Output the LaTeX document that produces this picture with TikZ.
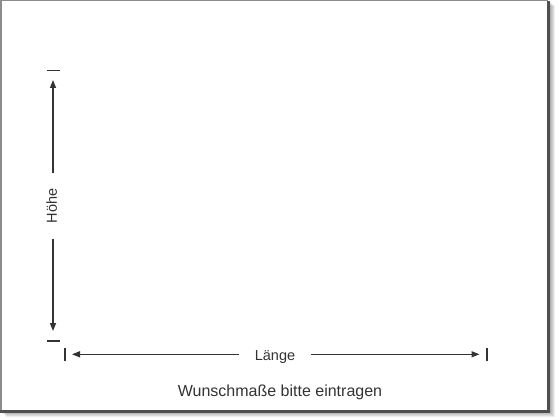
\documentclass[tikz,border=0pt]{standalone}
\usepackage{fontspec}
\setmainfont{Liberation Sans}
\usetikzlibrary{arrows.meta}
\definecolor{ink}{HTML}{333333}
\definecolor{frameline}{HTML}{8C8C8C}
\definecolor{frameedge}{HTML}{4F4F4F}

\begin{document}
\begin{tikzpicture}[x=1pt, y=-1pt, every node/.style={text=ink, font=\fontsize{14.5}{17}\selectfont}, every path/.style={line width=1.4pt}, dimline/.style={draw=ink, -{Triangle[length=8pt, width=6pt]}}, tick/.style={draw=ink}, dimlabel/.style={fill=white, inner xsep=15pt, inner ysep=2pt}]

        \useasboundingbox (0,0) rectangle (560,420);

        % shadow and panel
        \foreach \s in {1,...,6}
                \fill[black, opacity=0.07] (\s,\s) rectangle (549+\s,411+\s);
        \fill[white] (0,0) rectangle (548,410);
        \draw[frameline, line width=1.5pt] (0.75,410) -- (0.75,0.75) -- (548,0.75);
        \draw[frameedge, line width=3pt] (548.5,1) -- (548.5,411.5) -- (0,411.5);

        % end marks
        \coordinate (ttop) at (53.5,70.7);
        \coordinate (tbot) at (53.5,341);
        \coordinate (tleft) at (65,354.3);
        \coordinate (tright) at (487,354.3);
        \draw[tick] ([xshift=-6.5pt]ttop) -- ([xshift=6.5pt]ttop);
        \draw[tick] ([xshift=-6.5pt]tbot) -- ([xshift=6.5pt]tbot);
        \draw[tick] ([yshift=-6.5pt]tleft) -- ([yshift=6.5pt]tleft);
        \draw[tick] ([yshift=-6.5pt]tright) -- ([yshift=6.5pt]tright);

        % arrow ends
        \coordinate (up) at (53,80);
        \coordinate (down) at (53,331);
        \coordinate (left) at (72,354.3);
        \coordinate (right) at (479.5,354.3);

        \node[dimlabel, rotate=90, text depth=3pt] (hoehe) at (53,206) {Höhe};
        \node[dimlabel, text height=12.5pt, text depth=0pt] (laenge) at (275,354.3) {Länge};
        \node[anchor=base, font=\fontsize{16}{19}\selectfont] (hint) at (280,396.7) {Wunschmaße bitte eintragen};

        \draw[dimline] (hoehe) -- (up);
        \draw[dimline] (hoehe) -- (down);
        \draw[dimline] (laenge) -- (left);
        \draw[dimline] (laenge) -- (right);

\end{tikzpicture}
\end{document}
